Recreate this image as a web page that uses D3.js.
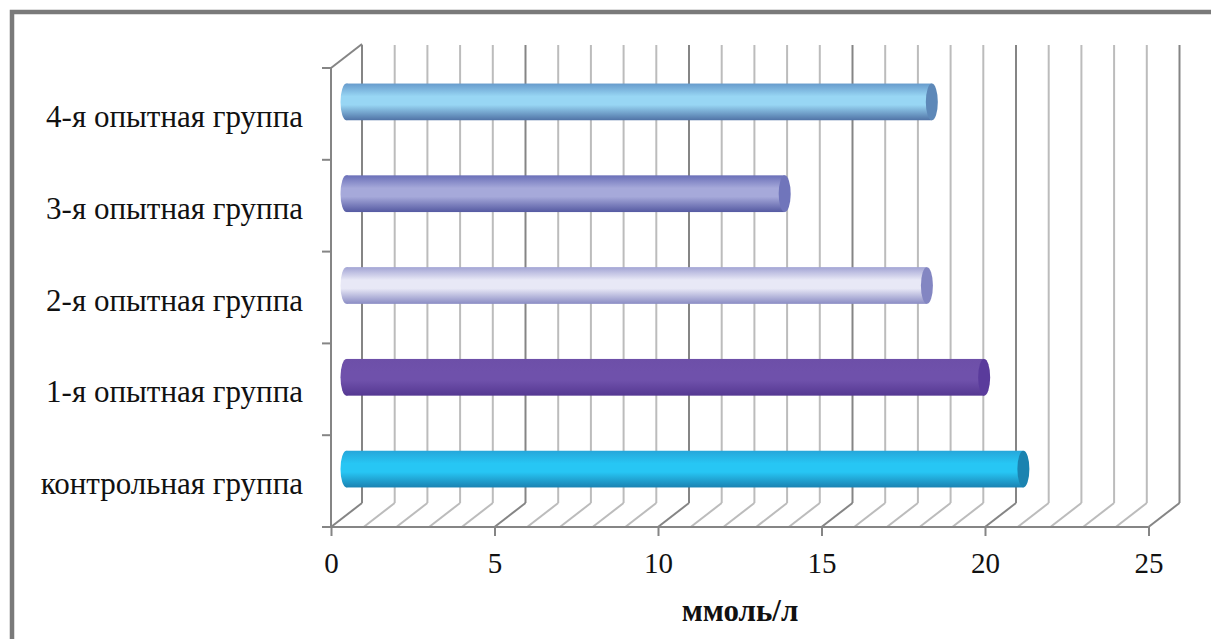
<!DOCTYPE html>
<html><head><meta charset="utf-8">
<script src="https://cdn.jsdelivr.net/npm/d3@7"></script>
<style>html,body{margin:0;padding:0;background:#fff;}svg{display:block;}</style>
</head><body>
<svg id="c" width="1211" height="639"></svg>
<script>
const categories = ["контрольная группа","1-я опытная группа","2-я опытная группа","3-я опытная группа","4-я опытная группа"];
const values = [20.7, 19.5, 17.75, 13.4, 17.9];
const tickValues = [0,5,10,15,20,25];
const axisTitle = "ммоль/л";
const barColors = [
  {top:"#26a6da", light:"#27c6f4", bottom:"#1a82b2", cap:"#1b83b0"},
  {top:"#6d4fa8", light:"#6f51ab", bottom:"#553892", cap:"#5a3b9c"},
  {top:"#a2a4d4", light:"#e8e8f6", bottom:"#8a8cc4", cap:"#8386c2"},
  {top:"#6a6fb8", light:"#a6a9da", bottom:"#555aa2", cap:"#7075bb"},
  {top:"#679bcc", light:"#98d6f4", bottom:"#5073a6", cap:"#5d88b8"}
];

const svg = d3.select("#c");
const W = 1211, H = 639;
svg.append("rect").attr("x",0).attr("y",0).attr("width",W).attr("height",H).attr("fill","#fff");
svg.append("path").attr("d",`M12,${H+5} L12,12 L${W+5},12`).attr("fill","none").attr("stroke","#7a7a7a").attr("stroke-width",4.5);

const x0 = 331, x1 = 1148.5, yTop = 68, yBot = 527;
const dx = 31, dy = 24;
const fontFam = "'Liberation Serif', 'Times New Roman', serif";
const x = d3.scaleLinear().domain([0,25]).range([x0,x1]);
const y = d3.scaleBand().domain(categories).range([yBot,yTop]).paddingInner(0).paddingOuter(0);

const grid = d3.range(0,26);
const g = svg.append("g");
g.selectAll("line.bw").data(grid).join("line")
  .attr("x1",d=>x(d)+dx).attr("x2",d=>x(d)+dx)
  .attr("y1",yTop-dy+1).attr("y2",yBot-dy)
  .attr("stroke",d=>d%5===0?"#858585":"#bcbcbc").attr("stroke-width",2);
g.selectAll("line.fd").data(grid).join("line")
  .attr("x1",d=>x(d)).attr("y1",yBot)
  .attr("x2",d=>x(d)+dx).attr("y2",yBot-dy)
  .attr("stroke",d=>d%5===0?"#858585":"#bcbcbc").attr("stroke-width",2);
g.append("line").attr("x1",x0).attr("y1",yTop).attr("x2",x0+dx).attr("y2",yTop-dy)
  .attr("stroke","#858585").attr("stroke-width",2);

const xAxis = d3.axisBottom(x).tickValues(tickValues).tickSize(9).tickSizeOuter(0).tickPadding(16);
const ax = svg.append("g").attr("transform",`translate(0,${yBot})`).call(xAxis);
ax.select(".domain").remove();
ax.append("line").attr("x1",x0-9).attr("x2",x1).attr("y1",0).attr("y2",0).attr("stroke","#858585").attr("stroke-width",2);
ax.selectAll(".tick line").attr("stroke","#858585").attr("stroke-width",2);
ax.selectAll(".tick text").attr("font-family",fontFam).attr("font-size",29).attr("fill","#111");

svg.append("line").attr("x1",x0).attr("x2",x0).attr("y1",yTop).attr("y2",yBot).attr("stroke","#858585").attr("stroke-width",2);
const bounds = categories.map(c=>y(c)).concat([yBot]);
svg.selectAll("line.lt").data(bounds).join("line")
  .attr("x1",x0-9).attr("x2",x0).attr("y1",d=>d).attr("y2",d=>d)
  .attr("stroke","#858585").attr("stroke-width",2);

svg.selectAll("text.cat").data(categories).join("text")
  .attr("x",303).attr("y",d=>y(d)+y.bandwidth()/2+13)
  .attr("text-anchor","end")
  .attr("font-family",fontFam)
  .attr("font-size",31).attr("fill","#111").text(d=>d);

const defs = svg.append("defs");
barColors.forEach((c,i)=>{
  const gr = defs.append("linearGradient").attr("id","gb"+i).attr("x1",0).attr("x2",0).attr("y1",0).attr("y2",1);
  gr.append("stop").attr("offset","0%").attr("stop-color",c.top);
  gr.append("stop").attr("offset","35%").attr("stop-color",c.light);
  gr.append("stop").attr("offset","58%").attr("stop-color",c.light);
  gr.append("stop").attr("offset","100%").attr("stop-color",c.bottom);
});

const bh = y.bandwidth()*0.4, rx = 6;
const bars = svg.selectAll("g.bar").data(categories).join("g");
bars.each(function(c,i){
  const gEl = d3.select(this);
  const cy = y(c)+y.bandwidth()/2 - dy/2;
  const xs = x(0)+dx/2, xe = x(values[i])+dx/2;
  gEl.append("ellipse").attr("cx",xs).attr("cy",cy).attr("rx",rx).attr("ry",bh/2).attr("fill",`url(#gb${i})`);
  gEl.append("rect").attr("x",xs).attr("y",cy-bh/2).attr("width",xe-xs).attr("height",bh).attr("fill",`url(#gb${i})`);
  gEl.append("ellipse").attr("cx",xe).attr("cy",cy).attr("rx",rx).attr("ry",bh/2).attr("fill",barColors[i].cap);
});

svg.append("text").attr("x",740).attr("y",621).attr("text-anchor","middle")
  .attr("font-family",fontFam)
  .attr("font-weight","bold").attr("font-size",31).attr("fill","#111").text(axisTitle);
</script>
</body></html>
